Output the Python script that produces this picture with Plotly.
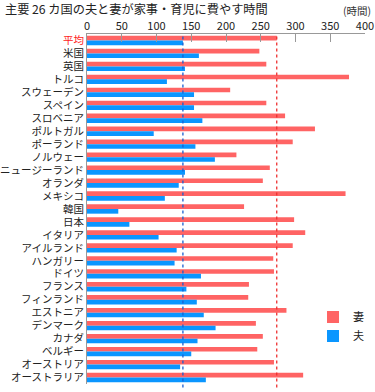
import plotly.graph_objects as go

countries = ["平均", "米国", "英国", "トルコ", "スウェーデン", "スペイン", "スロベニア",
             "ポルトガル", "ポーランド", "ノルウェー", "ニュージーランド", "オランダ",
             "メキシコ", "韓国", "日本", "イタリア", "アイルランド", "ハンガリー", "ドイツ",
             "フランス", "フィンランド", "エストニア", "デンマーク", "カナダ", "ベルギー",
             "オーストリア", "オーストラリア"]
wife = [273, 248, 258, 377, 206, 258, 285, 328, 296, 215, 263, 253, 372, 226, 298,
        314, 296, 268, 269, 233, 232, 287, 243, 253, 245, 269, 311]
husband = [138, 161, 141, 115, 154, 154, 166, 96, 156, 184, 141, 132, 112, 45, 61,
           103, 129, 126, 164, 143, 158, 168, 185, 159, 150, 134, 171]
x_ticks = [0, 50, 100, 150, 200, 250, 300, 350, 400]
series_names = ["妻", "夫"]
title_text = "主要 26 カ国の夫と妻が家事・育児に費やす時間"
unit_text = "(時間)"

RED = "#FF6464"
BLUE = "#0A96FF"
FONT = "Noto Sans CJK JP, Noto Sans, sans-serif"

tick_text = ['<span style="color:#FF2222">%s</span>' % c if i == 0 else c
             for i, c in enumerate(countries)]

fig = go.Figure()
fig.add_trace(go.Bar(y=countries, x=wife, orientation="h", name=series_names[0],
                     marker=dict(color=RED, line=dict(width=0))))
fig.add_trace(go.Bar(y=countries, x=husband, orientation="h", name=series_names[1],
                     marker=dict(color=BLUE, line=dict(width=0))))

fig.add_shape(type="line", xref="x", yref="paper", x0=wife[0], x1=wife[0], y0=-0.01, y1=1,
              line=dict(color="#EE3030", width=1.3, dash="3px,3px"), layer="above")
fig.add_shape(type="line", xref="x", yref="paper", x0=husband[0], x1=husband[0], y0=-0.01, y1=1,
              line=dict(color="#1A5FD0", width=1.3, dash="3px,3px"), layer="above")

fig.update_layout(
    width=375, height=392,
    margin=dict(l=87, r=10, t=34, b=8, autoexpand=False),
    paper_bgcolor="white", plot_bgcolor="white",
    font=dict(family=FONT, color="#222222", size=11),
    barmode="group", bargap=0.28, bargroupgap=0,
    hovermode=False,
    showlegend=True,
    legend=dict(x=0.813, y=0.233, xanchor="left", yanchor="top",
                bgcolor="rgba(0,0,0,0)", font=dict(size=11, color="#222222"),
                traceorder="normal", itemwidth=30),
    title=dict(text=title_text, x=0.0133, xanchor="left", y=0.9745, yanchor="middle",
               font=dict(size=12.2, color="#222222", family=FONT)),
    annotations=[dict(text=unit_text, xref="paper", yref="paper", x=1.029, y=1.066,
                      xanchor="right", yanchor="middle", showarrow=False,
                      font=dict(size=10.5, color="#333333"))],
)
fig.update_xaxes(range=[0, 400], side="top", tickvals=x_ticks, ticks="inside", ticklen=8,
                 tickcolor="#999999", showline=True, linecolor="#999999", linewidth=1,
                 showgrid=False, zeroline=False, automargin=False, ticklabelstandoff=-1,
                 tickfont=dict(size=11, color="#222222"))
fig.update_yaxes(type="category", categoryorder="array", categoryarray=countries,
                 autorange="reversed", tickmode="array", tickvals=countries, ticktext=tick_text,
                 showline=True, linecolor="#999999", linewidth=1, ticks="", showgrid=False,
                 automargin=False, tickfont=dict(size=10.5, color="#222222"))

# remove the default 8px page margin so the figure sits at the window's top-left corner
fig.write_html("out.html", config={"displayModeBar": False, "staticPlot": True},
               post_script="document.body.style.margin='0px';")
